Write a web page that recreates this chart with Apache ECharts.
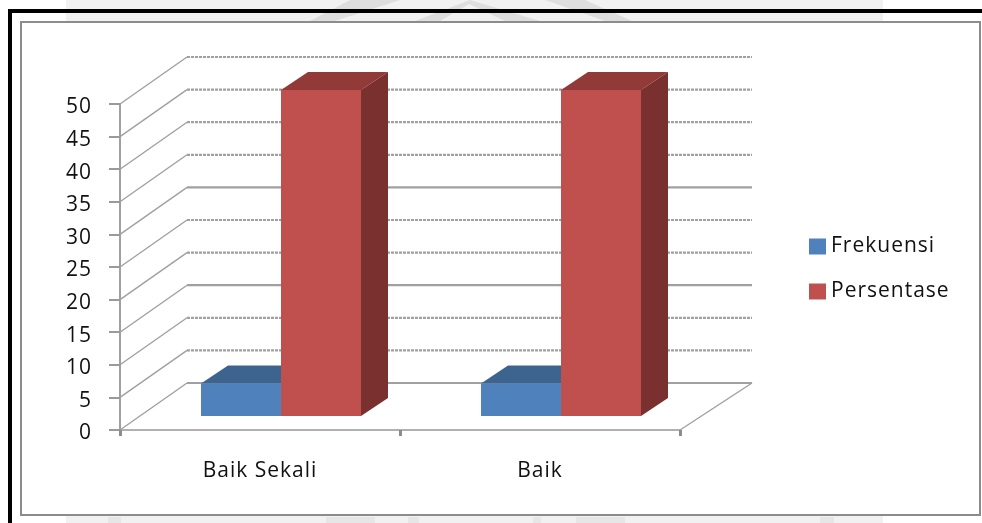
<!DOCTYPE html>
<html>
<head>
<meta charset="utf-8">
<style>html,body{margin:0;padding:0;background:#fff}#c{width:982px;height:523px}</style>
<script src="https://cdn.jsdelivr.net/npm/echarts@6/dist/echarts.min.js"></script>
</head>
<body>
<div id="c"></div>
<script>
// data
var categories = ['Baik Sekali', 'Baik'];
var frekuensi = [5, 5];
var persentase = [50, 50];
var wallTicks = [0, 5, 10, 15, 20, 25, 30, 35, 40, 45, 50];
var solidWallTicks = [0, 15, 30];

// the reference text is set with loose tracking
var nativeFillText = CanvasRenderingContext2D.prototype.fillText;
CanvasRenderingContext2D.prototype.fillText = function () {
  this.letterSpacing = '1px';
  return nativeFillText.apply(this, arguments);
};

// pseudo-3D projection of the Excel chart
var WALL_DX = 67, WALL_DY = -47, WALL_DX_RIGHT = 72;
var BAR_DX = 27, BAR_DY = -18, BAR_W = 80;
var BLUE = '#4F81BD', BLUE_TOP = '#3C648F';
var RED = '#C0504D', RED_TOP = '#923A38', RED_SIDE = '#7A302E';
var GRID = '#a0a0a0';

var chart = echarts.init(document.getElementById('c'), null, {renderer: 'canvas'});

function wallItem(params, api) {
  var v = api.value(0);
  var left = api.coord([0, v]);
  var size = api.size([1, 0])[0];
  var x0 = left[0] - size / 2, y = left[1];
  var x1 = x0 + size * categories.length;
  var solid = solidWallTicks.indexOf(v) >= 0;
  var style = {stroke: GRID, lineWidth: 2.2, lineDash: solid ? null : [3, 1], fill: null};
  var kids = [
    {type: 'line', shape: {x1: x0, y1: y, x2: x0 + WALL_DX, y2: y + WALL_DY},
     style: {stroke: '#a0a0a0', lineWidth: 1.4, fill: null}},
    {type: 'line', shape: {x1: x0 + WALL_DX, y1: y + WALL_DY, x2: x1 + WALL_DX_RIGHT, y2: y + WALL_DY}, style: style}
  ];
  if (v === 0) {
    kids.push({type: 'line', shape: {x1: x1, y1: y, x2: x1 + WALL_DX_RIGHT, y2: y + WALL_DY},
      style: {stroke: '#a0a0a0', lineWidth: 1.4, fill: null}});
  }
  return {type: 'group', children: kids};
}

function depthItem(side, topColor, sideColor) {
  return function (params, api) {
    var c = api.coord([api.value(0), api.value(1)]);
    var base = api.coord([api.value(0), 0]);
    var xl = side < 0 ? c[0] - BAR_W : c[0];
    var xr = xl + BAR_W;
    var kids = [{
      type: 'polygon',
      shape: {points: [[xl, c[1]], [xr, c[1]], [xr + BAR_DX, c[1] + BAR_DY], [xl + BAR_DX, c[1] + BAR_DY]]},
      style: {fill: topColor}
    }];
    if (sideColor) {
      kids.push({
        type: 'polygon',
        shape: {points: [[xr, c[1]], [xr + BAR_DX, c[1] + BAR_DY], [xr + BAR_DX, base[1] + BAR_DY], [xr, base[1]]]},
        style: {fill: sideColor}
      });
    }
    return {type: 'group', children: kids};
  };
}

var labelFont = {fontFamily: '"Open Sans"', fontSize: 21, color: '#111'};

function smudge(points) {
  return {type: 'polygon', z: -10, silent: true, shape: {points: points}, style: {fill: '#dedede'}};
}
function strip(x, w) {
  return {type: 'rect', z: -10, silent: true, shape: {x: x, y: 517, width: w, height: 6}, style: {fill: '#e6e6e6'}};
}

chart.setOption({
  animation: false,
  backgroundColor: '#fff',
  textStyle: {fontFamily: '"Open Sans"'},
  graphic: [
    {type: 'rect', z: -11, silent: true, shape: {x: 66, y: 0, width: 817, height: 21}, style: {fill: '#f1f1f1'}},
    {type: 'rect', z: -11, silent: true, shape: {x: 66, y: 516, width: 817, height: 7}, style: {fill: '#f1f1f1'}},
    smudge([[310, 21], [335, 21], [400, 0], [350, 0]]),
    smudge([[415, 21], [440, 21], [469, 4], [505, 21], [540, 21], [470, 0]]),
    smudge([[545, 0], [585, 0], [632, 21], [605, 21]]),
    strip(108, 13), strip(326, 49), strip(408, 11), strip(533, 8), strip(576, 49), strip(820, 14),
    {type: 'rect', z: -9, silent: true, shape: {x: 10, y: 11, width: 974, height: 520}, style: {fill: null, stroke: '#000', lineWidth: 4}},
    {type: 'rect', z: -8, silent: true, shape: {x: 21, y: 22, width: 959, height: 493}, style: {fill: '#fff', stroke: '#8c8c8c', lineWidth: 2}}
  ],
  legend: {
    orient: 'vertical', left: 804, top: 231,
    data: ['Frekuensi', 'Persentase'],
    icon: 'rect', itemWidth: 17, itemHeight: 16, itemGap: 24,
    textStyle: {fontFamily: '"Open Sans"', fontSize: 21, color: '#111', padding: [1, 0, 0, 0]}
  },
  grid: [
    {left: 120, top: 104, width: 560, height: 326},
    {left: 141, top: 90, width: 560, height: 326}
  ],
  xAxis: [
    {type: 'category', gridIndex: 0, data: categories,
     axisLine: {lineStyle: {color: '#b0b0b0', width: 2, type: [2, 1]}},
     axisTick: {show: true, length: 6, alignWithLabel: false, lineStyle: {color: '#8c8c8c', width: 3}},
     axisLabel: Object.assign({margin: 31}, labelFont)},
    {type: 'category', gridIndex: 1, data: categories, show: false}
  ],
  yAxis: [
    {type: 'value', gridIndex: 0, min: 0, max: 50, interval: 5,
     splitLine: {show: false},
     axisLine: {show: true, lineStyle: {color: GRID, width: 2}},
     axisTick: {show: true, length: 11, lineStyle: {color: '#9a9a9a', width: 2}},
     axisLabel: Object.assign({margin: 28, verticalAlign: 'top', lineHeight: 7}, labelFont)},
    {type: 'value', gridIndex: 1, min: 0, max: 50, interval: 5, show: false, splitLine: {show: false}}
  ],
  series: [
    {type: 'custom', name: 'wall', xAxisIndex: 0, yAxisIndex: 0, z: 1, silent: true,
     data: wallTicks.map(function (v) { return [v]; }),
     encode: {x: -1, y: 0},
     renderItem: wallItem},
    {type: 'custom', name: 'Frekuensi depth', xAxisIndex: 1, yAxisIndex: 1, z: 2, silent: true,
     data: frekuensi.map(function (v, i) { return [i, v]; }),
     encode: {x: 0, y: 1},
     renderItem: depthItem(-1, BLUE_TOP, null)},
    {type: 'custom', name: 'Persentase depth', xAxisIndex: 1, yAxisIndex: 1, z: 2, silent: true,
     data: persentase.map(function (v, i) { return [i, v]; }),
     encode: {x: 0, y: 1},
     renderItem: depthItem(1, RED_TOP, RED_SIDE)},
    {type: 'bar', name: 'Frekuensi', xAxisIndex: 1, yAxisIndex: 1, z: 3, data: frekuensi,
     barWidth: BAR_W, barGap: 0, itemStyle: {color: BLUE}},
    {type: 'bar', name: 'Persentase', xAxisIndex: 1, yAxisIndex: 1, z: 3, data: persentase,
     barWidth: BAR_W, barGap: 0, itemStyle: {color: RED}}
  ]
});
</script>
</body>
</html>
